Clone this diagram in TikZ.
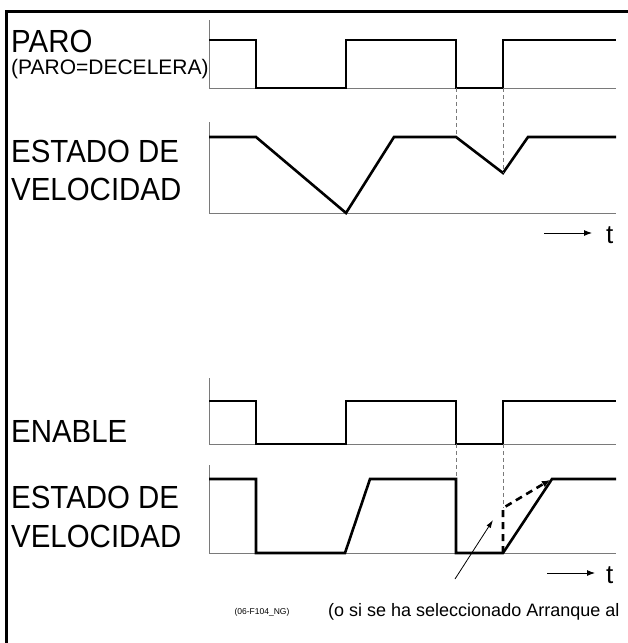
\documentclass[tikz,border=0pt]{standalone}
\usepackage{fontspec}
\setmainfont{Liberation Sans}
\newfontfamily\labelfont[FakeStretch=0.92]{Liberation Sans}
\usetikzlibrary{arrows.meta, positioning}
\definecolor{cgrey}{HTML}{7A7A7A}
\tikzset{
  every picture/.style={line join=miter},
  frameline/.style={line width=3pt, black},
  signal/.style={line width=2.6pt, black},
  axisline/.style={line width=0.8pt, draw=cgrey},
  guide/.style={line width=0.8pt, draw=cgrey, dash pattern=on 4pt off 3pt},
  bigtext/.style={font=\labelfont\fontsize{32}{34}\selectfont, anchor=base west, inner sep=0pt},
  midtext/.style={font=\fontsize{21}{23}\selectfont, anchor=base west, inner sep=0pt},
  tlabel/.style={font=\fontsize{26}{28}\selectfont, anchor=base west, inner sep=0pt},
  tarrow/.style={line width=0.9pt, -{Latex[length=8pt, width=6pt]}},
}

\begin{document}
\begin{tikzpicture}[x=1pt, y=-1pt]
  \useasboundingbox (0,0) rectangle (628,643);
  % frame
  \draw[frameline] (6.5,643) -- (6.5,11) -- (628,11);

  % --- upper chart: PARO ---
  \node[bigtext] (paro) at (11,52) {PARO};
  \node[midtext] (parodec) at (11,74) {(PARO=DECELERA)};
  \draw[axisline] (209,20) -- (209,88) -- (616,88);
  \draw[signal] (209,40) -- (256,40) -- (256,88) -- (346,88) -- (346,40) -- (456,40)
    -- (456,88) -- (503,88) -- (503,40) -- (616,40);
  \node[bigtext] (estA) at (11,162) {ESTADO DE};
  \node[bigtext] (velA) at (11,200) {VELOCIDAD};
  \draw[axisline] (209,122) -- (209,213) -- (616,213);
  \draw[signal] (209,137) -- (256,137) -- (346,213) -- (394,137) -- (456,137)
    -- (503,173) -- (528,137) -- (616,137);
  \draw[guide] (456,88) -- (456,137);
  \draw[guide] (503,88) -- (503,173);
  \coordinate (tA) at (544,233);
  \node[tlabel] (tAlab) at (606,243) {t};
  \draw[tarrow] (tA) -- ++(48,0);

  % --- lower chart: ENABLE ---
  \node[bigtext] (enable) at (11,442) {ENABLE};
  \draw[axisline] (209,378) -- (209,444) -- (616,444);
  \draw[signal] (209,401) -- (256,401) -- (256,444) -- (346,444) -- (346,401) -- (456,401)
    -- (456,444) -- (503,444) -- (503,401) -- (616,401);
  \node[bigtext] (estB) at (11,508) {ESTADO DE};
  \node[bigtext] (velB) at (11,547) {VELOCIDAD};
  \draw[axisline] (209,465) -- (209,553) -- (616,553);
  \draw[signal] (209,479) -- (256,479) -- (256,553) -- (345,553) -- (370,479) -- (456,479)
    -- (456,553) -- (503,553) -- (552,479) -- (616,479);
  \draw[guide] (456,444) -- (456,479);
  \draw[guide] (503,444) -- (503,508);
  \coordinate (jump) at (503,508);
  \coordinate (top) at (550,480);
  \draw[signal, dash pattern=on 7pt off 5pt, -{Latex[length=8pt, width=7pt]}]
    (503,553) -- (jump) -- (top);
  \coordinate (tB) at (547,573);
  \node[tlabel] (tBlab) at (606,583) {t};
  \draw[tarrow] (tB) -- ++(48,0);

  % note
  \coordinate (noteTail) at (455,579);
  \coordinate (noteHead) at (493,520);
  \draw[line width=0.8pt, -{Latex[length=8pt, width=5pt]}] (noteTail) -- (noteHead);
  \node[font=\fontsize{8.5}{10}\selectfont, anchor=base, inner sep=0pt] (fig) at (262,614) {(06-F104\_NG)};
  \node[font=\fontsize{18}{20}\selectfont, anchor=base west, inner sep=0pt] (note) at (328,616)
    {(o si se ha seleccionado Arranque al};
\end{tikzpicture}
\end{document}
